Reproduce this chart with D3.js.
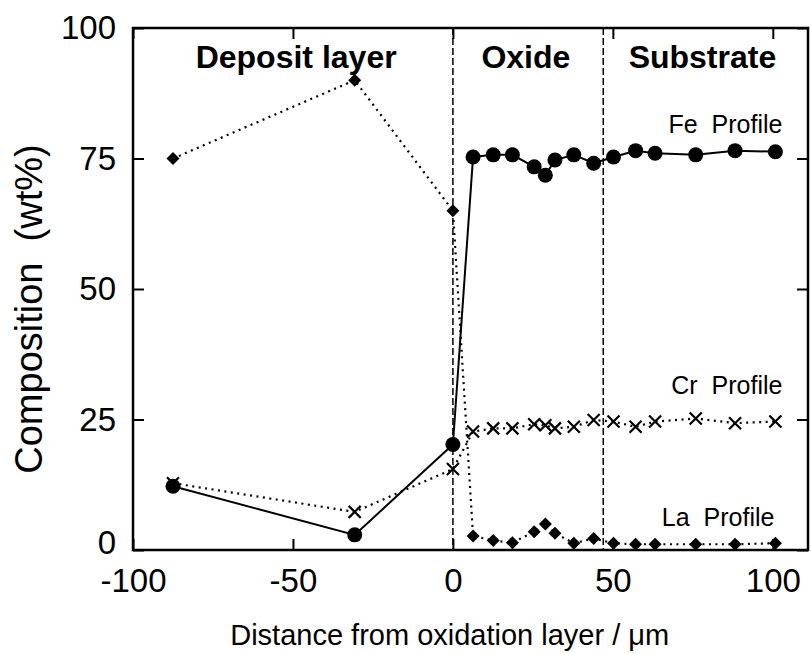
<!DOCTYPE html>
<html>
<head>
<meta charset="utf-8">
<script src="https://cdn.jsdelivr.net/npm/d3@7"></script>
<style>
    body { margin: 0; background: #fff; }
    svg text { font-family: "Liberation Sans", Arial, Helvetica, sans-serif; fill: #000; }
</style>
</head>
<body>
<div id="chart"></div>
<script>
// Perfis de composição (wt%) em função da distância à camada de óxido
const depositX = [-87.5, -30.7, 0];
const feDeposit = [12.2, 2.9, 20.2];
const crDeposit = [12.8, 7.3, 15.5];
const laDeposit = [75.0, 90.0, 65.0];

const layerX = [6.3, 12.6, 18.6, 25.4, 28.9, 31.9, 37.8, 44.0, 50.2, 57.1, 63.2, 75.9, 88.2, 100.8];
const feLayer = [75.3, 75.7, 75.7, 73.4, 71.8, 74.7, 75.7, 74.1, 75.3, 76.5, 76.0, 75.7, 76.5, 76.3];
const crLayer = [22.7, 23.3, 23.3, 24.1, 23.9, 23.3, 23.6, 24.9, 24.6, 23.6, 24.6, 25.2, 24.3, 24.6];
const laLayer = [2.7, 1.8, 1.4, 3.5, 5.0, 3.2, 1.3, 2.2, 1.3, 1.1, 1.1, 1.1, 1.1, 1.3];

const xTicks = [-100, -50, 0, 50, 100];
const yTicks = [0, 25, 50, 75, 100];
const boundaries = [0, 47];
const regionNames = ["Deposit layer", "Oxide", "Substrate"];
const profileNames = ["Fe  Profile", "Cr  Profile", "La  Profile"];

const W = 811, H = 654;
const margin = { top: 28, right: 3, bottom: 104, left: 133 };
const width = W - margin.left - margin.right,
    height = H - margin.top - margin.bottom;

const svg = d3.select("#chart")
    .append("svg")
    .attr("width", W)
    .attr("height", H)
    .append("g")
    .attr("transform", `translate(${margin.left},${margin.top})`);

// Escalas
const x = d3.scaleLinear().domain([-100, 111]).range([0, width]);
const y = d3.scaleLinear().domain([0, 100]).range([height, 0]);

// Juntar as séries
const allX = depositX.concat(layerX);
const series = {
    fe: allX.map((d, i) => ({ x: d, y: i < 3 ? feDeposit[i] : feLayer[i - 3] })),
    cr: allX.map((d, i) => ({ x: d, y: i < 3 ? crDeposit[i] : crLayer[i - 3] })),
    la: allX.map((d, i) => ({ x: d, y: i < 3 ? laDeposit[i] : laLayer[i - 3] }))
};

// Eixos com ticks para dentro em todos os lados
const tickLen = 11;
svg.append("g")
    .attr("transform", `translate(0,${height})`)
    .call(d3.axisBottom(x).tickValues(xTicks).tickSize(-tickLen).tickPadding(tickLen + 8).tickFormat(d => String(d)))
    .call(g => g.selectAll("text").style("font-size", "33px").attr("dy", "0.71em"));

svg.append("g")
    .call(d3.axisTop(x).tickValues(xTicks).tickSize(-tickLen).tickFormat(""));

svg.append("g")
    .call(d3.axisLeft(y).tickValues(yTicks).tickSize(-tickLen).tickPadding(tickLen + 6).tickFormat(d => String(d)))
    .call(g => g.selectAll("text")
        .style("font-size", "33px")
        .attr("dy", d => d === 0 ? "0.1em" : "0.32em"));

svg.append("g")
    .attr("transform", `translate(${width},0)`)
    .call(d3.axisRight(y).tickValues(yTicks).tickSize(-tickLen).tickFormat(""));

svg.selectAll(".domain").remove();
svg.selectAll(".tick line").attr("stroke", "#000").attr("stroke-width", 2);

// Moldura
svg.append("rect")
    .attr("width", width)
    .attr("height", height)
    .attr("fill", "none")
    .attr("stroke", "#000")
    .attr("stroke-width", 2.5);

// Limites entre camadas
svg.selectAll(".boundary")
    .data(boundaries)
    .enter()
    .append("line")
    .attr("x1", d => x(d))
    .attr("x2", d => x(d))
    .attr("y1", 0)
    .attr("y2", height)
    .attr("stroke", "#000")
    .attr("stroke-width", 1.5)
    .attr("stroke-dasharray", "7,3");

// Nomes das regiões
const regionX = [-49, 22.8, 78];
svg.selectAll(".region")
    .data(regionNames)
    .enter()
    .append("text")
    .attr("x", (d, i) => x(regionX[i]))
    .attr("y", 40)
    .attr("text-anchor", "middle")
    .style("font-size", "32px")
    .style("font-weight", "bold")
    .text(d => d);

// Linhas
const line = d3.line().x(d => x(d.x)).y(d => y(d.y));

svg.append("path")
    .datum(series.la)
    .attr("d", line)
    .attr("fill", "none")
    .attr("stroke", "#000")
    .attr("stroke-width", 2.2)
    .attr("stroke-dasharray", "2,4.5");

svg.append("path")
    .datum(series.cr)
    .attr("d", line)
    .attr("fill", "none")
    .attr("stroke", "#000")
    .attr("stroke-width", 2.2)
    .attr("stroke-dasharray", "2,4.5");

svg.append("path")
    .datum(series.fe)
    .attr("d", line)
    .attr("fill", "none")
    .attr("stroke", "#000")
    .attr("stroke-width", 2);

// Marcadores: La (losangos)
svg.selectAll(".la")
    .data(series.la)
    .enter()
    .append("path")
    .attr("transform", d => `translate(${x(d.x)},${y(d.y)})`)
    .attr("d", "M0,-6.5L6.5,0L0,6.5L-6.5,0Z")
    .attr("fill", "#000");

// Cr (cruzes)
svg.selectAll(".cr")
    .data(series.cr)
    .enter()
    .append("path")
    .attr("transform", d => `translate(${x(d.x)},${y(d.y)})`)
    .attr("d", "M-6,-6L6,6M-6,6L6,-6")
    .attr("stroke", "#000")
    .attr("stroke-width", 2.2)
    .attr("fill", "none");

// Fe (círculos)
svg.selectAll(".fe")
    .data(series.fe)
    .enter()
    .append("circle")
    .attr("cx", d => x(d.x))
    .attr("cy", d => y(d.y))
    .attr("r", 7.5)
    .attr("fill", "#000");

// Etiquetas dos perfis
const profileY = [79.8, 29.8, 4.6];
const profileEnd = [103, 103, 100.5];
svg.selectAll(".profile")
    .data(profileNames)
    .enter()
    .append("text")
    .attr("x", (d, i) => x(profileEnd[i]))
    .attr("y", (d, i) => y(profileY[i]))
    .attr("text-anchor", "end")
    .style("font-size", "25px")
    .style("white-space", "pre")
    .text(d => d);

// Títulos dos eixos
svg.append("text")
    .attr("x", x(-1))
    .attr("y", height + 95)
    .attr("text-anchor", "middle")
    .style("font-size", "29px")
    .text("Distance from oxidation layer / μm");

svg.append("text")
    .attr("transform", "rotate(-90)")
    .attr("x", -(y(50) + 20))
    .attr("y", -margin.left + 42)
    .attr("text-anchor", "middle")
    .style("font-size", "38px")
    .style("white-space", "pre")
    .text("Composition  (wt%)");
</script>
</body>
</html>
